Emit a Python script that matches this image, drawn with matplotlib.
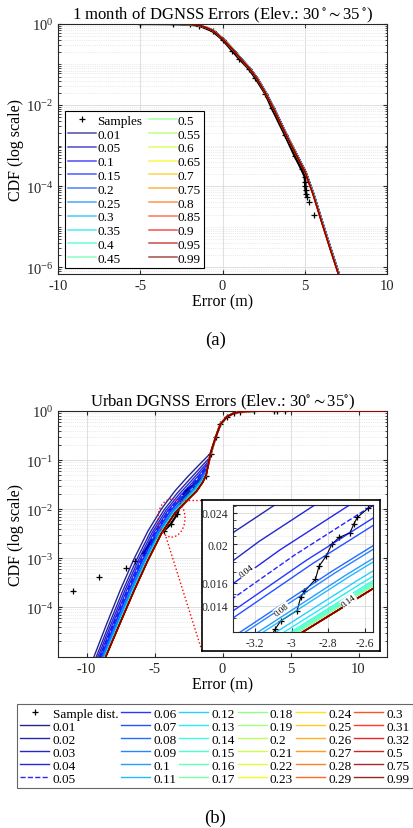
import numpy as np
import matplotlib.pyplot as plt
from matplotlib.patches import Ellipse
from matplotlib.lines import Line2D
from matplotlib.ticker import LogLocator, FixedLocator, NullFormatter, FixedFormatter

plt.rcParams['font.family'] = ['Liberation Serif', 'DejaVu Serif']
plt.rcParams['mathtext.fontset'] = 'stix'
plt.rcParams['axes.unicode_minus'] = False

# ---------------- (a) 1 month of DGNSS errors ----------------
a_quant = [0.01, 0.05, 0.1, 0.15, 0.2, 0.25, 0.3, 0.35, 0.4, 0.45,
           0.5, 0.55, 0.6, 0.65, 0.7, 0.75, 0.8, 0.85, 0.9, 0.95, 0.99]
# fitted quantile curve (all quantiles nearly overlap)
a_curve_x = [-7.1, -4.0, -3.0, -2.0, -1.39, -1.0, -0.58, 0.0, 0.64, 1.1, 1.6,
             2.08, 2.6, 3.09, 3.9, 4.51, 5.02, 5.5, 6.0, 6.5, 7.04, 7.3]
a_curve_y = [1.0, 1.0, 0.989, 0.97, 0.91, 0.81, 0.68, 0.43, 0.229, 0.138, 0.083,
             0.0457, 0.02, 0.0083, 0.0017, 5.6e-4, 2.2e-4, 6.3e-5, 1.4e-5, 3.2e-6,
             6.8e-7, 3e-7]
# small horizontal offset of each quantile curve
a_shift = [0.06, 0.055, 0.05, 0.045, 0.04, 0.035, 0.03, 0.03, 0.025, 0.02, 0.02,
           0.015, 0.015, 0.01, 0.01, 0.01, 0.005, 0.005, 0.0, 0.0, 0.0]
a_samp_x = [-5.0, -3.0, -2.0, -1.4, -0.6, 0.0, 0.6, 1.0, 1.6, 2.0, 2.6, 3.0, 3.8,
            4.4, 4.8, 5.0, 5.02, 5.03, 5.05, 5.08, 5.12]
a_samp_y = [1.0, 0.99, 0.965, 0.9, 0.66, 0.41, 0.215, 0.14, 0.078, 0.046, 0.019,
            0.0083, 0.0018, 5.4e-4, 2.6e-4, 1.7e-4, 1.3e-4, 1.0e-4, 8e-5, 6.5e-5,
            5.5e-5]
a_tail_x = [5.28, 5.58]
a_tail_y = [4.1e-5, 2.0e-5]

# ---------------- (b) urban DGNSS errors ----------------
b_quant = [0.01, 0.02, 0.03, 0.04, 0.05, 0.06, 0.07, 0.08, 0.09, 0.1, 0.11, 0.12,
           0.13, 0.14, 0.15, 0.16, 0.17, 0.18, 0.19, 0.2, 0.21, 0.22, 0.23, 0.24,
           0.25, 0.26, 0.27, 0.28, 0.29, 0.3, 0.31, 0.32, 0.5, 0.75, 0.99]
# outer curves of the bundle (0.01 and 0.99)
b_lo_x = [-9.64, -8.5, -7.5, -6.52, -5.5, -4.5, -3.5, -2.6, -1.8, -0.88]
b_lo_y = [7.2e-6, 4.7e-5, 2.3e-4, 9.5e-4, 3.5e-3, 0.01, 0.0234, 0.0447, 0.0759, 0.138]
b_hi_x = [-8.88, -7.5, -6.5, -5.5, -4.5, -3.5, -2.55, -1.9, -1.45, -1.2]
b_hi_y = [6.3e-6, 5.0e-5, 2.19e-4, 8.9e-4, 3.16e-3, 8.3e-3, 0.0155, 0.0234, 0.0355, 0.05]
# position of every quantile inside the bundle (0 = 0.01 curve, 1 = 0.99 curve)
b_weight = [0.0, 0.20, 0.34, 0.46, 0.54, 0.61, 0.65, 0.76, 0.78, 0.83, 0.85, 0.90,
            0.93, 0.955, 0.965, 0.975, 0.985, 1.0, 1.0, 1.0, 1.0, 1.0, 1.0, 1.0,
            1.0, 1.0, 1.0, 1.0, 1.0, 1.0, 1.0, 1.0, 1.0, 1.0, 1.0]
# common upper part after the curves merge
b_up_x = [-0.88, -0.51, -0.15, 0.34, 0.83, 1.32, 2.3, 12.5]
b_up_y = [0.138, 0.29, 0.54, 0.77, 0.9, 0.97, 0.995, 1.0]
b_samp_x = [-5.78, -5.29, -4.31, -3.82, -3.33, -3.09, -3.06, -2.97, -2.95, -2.93,
            -2.87, -2.85, -2.81, -2.78, -2.74, -2.68, -2.66, -2.64, -2.58, -2.2,
            -1.8, -1.45, -1.25, -0.88, -0.51, -0.15, 0.34, 0.83, 1.32, 2.3]
b_samp_y = [1.3e-3, 2.1e-3, 3.6e-3, 4.9e-3, 7.9e-3, 0.0122, 0.0128, 0.0136, 0.0147,
            0.0152, 0.0163, 0.0176, 0.0187, 0.0200, 0.0208, 0.0214, 0.0225, 0.0234,
            0.0247, 0.030, 0.037, 0.043, 0.048, 0.13, 0.29, 0.54, 0.77, 0.9, 0.97,
            0.995]
b_out_x = [-10.98, -9.09, -7.13, -6.47, 3.75, 4.04, 4.63]
b_out_y = [2.1e-4, 4.2e-4, 6.4e-4, 8.6e-4, 0.99, 0.99, 0.985]

ink = '0.15'
fig = plt.figure(figsize=(4.14, 8.29), dpi=100)


def style_axes(ax, fs=10.5):
    ax.set_yscale('log')
    ax.tick_params(which='both', direction='in', top=True, right=True,
                   colors=ink, labelsize=fs, length=3)
    ax.tick_params(which='minor', length=1.8)
    for s in ax.spines.values():
        s.set_color(ink)
        s.set_linewidth(0.8)
    ax.grid(True, which='major', color='0.85', lw=0.6)
    ax.grid(True, which='minor', color='0.85', lw=0.5, ls=':')
    ax.set_axisbelow(True)


# ---------------- panel (a) ----------------
ax = fig.add_axes([0.140, 0.668, 0.795, 0.302])
style_axes(ax)
cmap = plt.get_cmap('jet')
a_cols = cmap(np.linspace(0, 1, len(a_quant)))
h_s, = ax.plot(a_samp_x, a_samp_y, '+', color='k', ms=4, mew=0.9, label='Samples')
ax.plot(a_samp_x, a_samp_y, '-', color='k', lw=1.8)
ax.plot(a_tail_x, a_tail_y, '+', color='k', ms=4, mew=0.9)
handles = [h_s]
for q, dx, c in zip(a_quant, a_shift, a_cols):
    h, = ax.plot(np.array(a_curve_x) + dx, a_curve_y, color=c, lw=1.1, alpha=0.7,
                 label=f'{q:g}')
    handles.append(h)
ax.set_xlim(-10, 10)
ax.set_ylim(10 ** -6.17, 1)
ax.set_xticks([-10, -5, 0, 5, 10])
ax.yaxis.set_major_locator(FixedLocator([1e-6, 1e-4, 1e-2, 1]))
ax.yaxis.set_minor_locator(LogLocator(base=10, subs=np.arange(1, 10), numticks=60))
ax.yaxis.set_minor_formatter(NullFormatter())
ax.set_title(r'1 month of DGNSS Errors (Elev.: 30$\,^{\circ}\sim$35$\,^{\circ}$)',
             fontsize=12, pad=2, color='k')
ax.set_xlabel('Error (m)', fontsize=11.5, labelpad=1)
ax.set_ylabel('CDF (log scale)', fontsize=11.5, labelpad=1)
leg = ax.legend(handles=handles, loc='lower left', bbox_to_anchor=(0.021, 0.024),
                borderaxespad=0, ncol=2, fontsize=9.5, handlelength=2.1,
                handletextpad=0.1, labelspacing=0.12, columnspacing=0.5,
                borderpad=0.25, fancybox=False, framealpha=1)
leg.get_frame().set_edgecolor('k')
leg.get_frame().set_linewidth(0.8)
fig.text(0.52, 0.590, '(a)', ha='center', va='center', fontsize=13.5)


# ---------------- panel (b) ----------------
lx, ly = np.array(b_lo_x), np.log10(b_lo_y)
hx, hy = np.array(b_hi_x), np.log10(b_hi_y)
ux, uy = np.array(b_up_x), np.array(b_up_y)
b_cols = cmap(np.linspace(0, 1, len(b_quant)))


def draw_b(ax, main=False):
    hs = []
    ax.plot(b_samp_x, b_samp_y, '-', color='k', lw=1.6 if main else 0.8)
    h_s, = ax.plot(b_samp_x, b_samp_y, '+', color='k', ms=4, mew=0.9,
                   label='Sample dist.')
    ax.plot(b_out_x, b_out_y, '+', color='k', ms=4, mew=0.9)
    hs.append(h_s)
    for q, w, c in zip(b_quant, b_weight, b_cols):
        x = lx + w * (hx - lx)
        y = 10 ** (ly + w * (hy - ly))
        keep = ux > x[-1]
        x = np.r_[x, ux[keep]]
        y = np.r_[y, uy[keep]]
        ls = '--' if q == 0.05 else '-'
        h, = ax.plot(x, y, ls, color=c, lw=1.0, alpha=0.85, label=f'{q:g}',
                     zorder=3)
        hs.append(h)
    return hs


axb = fig.add_axes([0.140, 0.206, 0.795, 0.297])
style_axes(axb)
hb = draw_b(axb, main=True)
axb.set_xlim(-12.1, 12.1)
axb.set_ylim(10 ** -5.02, 1)
axb.set_xticks([-10, -5, 0, 5, 10])
axb.yaxis.set_major_locator(FixedLocator([1e-4, 1e-3, 1e-2, 1e-1, 1]))
axb.yaxis.set_minor_locator(LogLocator(base=10, subs=np.arange(2, 10), numticks=60))
axb.yaxis.set_minor_formatter(NullFormatter())
axb.set_title(r'Urban DGNSS Errors (Elev.: 30$^{\circ}\sim$35$^{\circ}$)',
              fontsize=12, pad=2)
axb.set_xlabel('Error (m)', fontsize=11.5, labelpad=1)
axb.set_ylabel('CDF (log scale)', fontsize=11.5, labelpad=1)
axb.add_patch(Ellipse((0.345, 0.565), 0.082, 0.154, transform=axb.transAxes,
                      fill=False, ec='red', ls=':', lw=1.0, zorder=4))

# zoom box
box = fig.add_axes([0.488, 0.2135, 0.430, 0.182])
box.set_xticks([])
box.set_yticks([])
for s in box.spines.values():
    s.set_linewidth(1.2)
    s.set_color('k')
box.set_zorder(3)

ins = fig.add_axes([0.563, 0.2364, 0.338, 0.153])
ins.set_zorder(4)
style_axes(ins, fs=8.5)
draw_b(ins)
ins.set_xlim(-3.32, -2.555)
ins.set_ylim(0.0120, 0.0251)
ins.xaxis.set_major_locator(FixedLocator([-3.2, -3, -2.8, -2.6]))
ins.xaxis.set_major_formatter(FixedFormatter(['-3.2', '-3', '-2.8', '-2.6']))
ins.yaxis.set_major_locator(FixedLocator([0.014, 0.016, 0.02, 0.024]))
ins.yaxis.set_major_formatter(FixedFormatter(['0.014', '0.016', '0.02', '0.024']))
ins.yaxis.set_minor_locator(FixedLocator(np.arange(0.012, 0.0252, 0.001)))
ins.yaxis.set_minor_formatter(NullFormatter())
ins.tick_params(which='both', right=False, top=False)
for txt, x, y in [('0.04', -3.245, 0.0171), ('0.08', -3.054, 0.0137),
                  ('0.14', -2.69, 0.0144)]:
    ins.text(x, y, txt, fontsize=6.5, rotation=37, ha='center', va='center',
             bbox=dict(fc='white', ec='none', pad=0.3), zorder=5)

# dotted connectors ellipse -> box
fig.add_artist(Line2D([181 / 414, 202 / 414], [1 - 501 / 829, 1 - 501 / 829],
                      color='red', ls=':', lw=1.0, zorder=2))
fig.add_artist(Line2D([166 / 414, 202 / 414], [1 - 538 / 829, 1 - 652 / 829],
                      color='red', ls=':', lw=1.0, zorder=2))

legb = fig.legend(handles=hb, loc='lower left',
                  bbox_to_anchor=(0.041, 0.048, 0.957, 0.104), mode='expand',
                  borderaxespad=0, ncol=6, fontsize=9.5, handlelength=2.2,
                  handletextpad=0.25, labelspacing=0.06, columnspacing=0.2,
                  borderpad=0.25, fancybox=False, framealpha=1)
legb.get_frame().set_edgecolor('0.4')
legb.get_frame().set_linewidth(0.8)
fig.text(0.52, 0.013, '(b)', ha='center', va='center', fontsize=13.5)

fig.savefig('out.png', dpi=100)
